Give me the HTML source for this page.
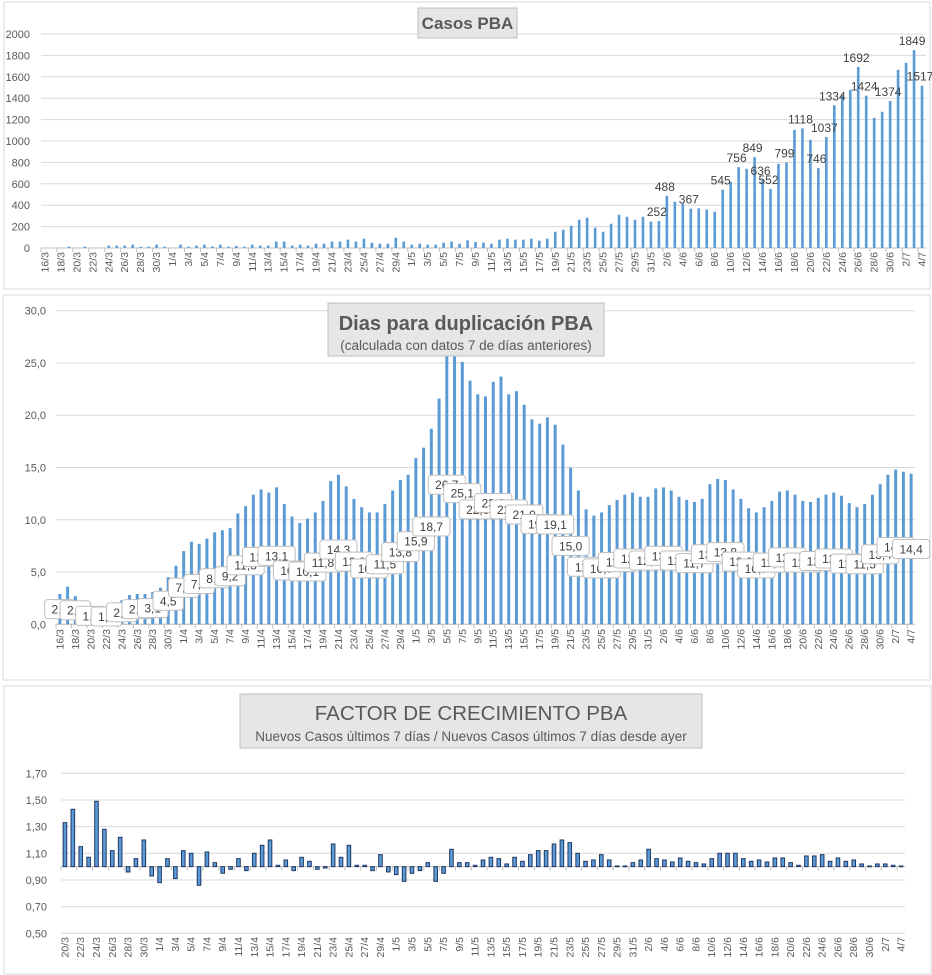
<!DOCTYPE html>
<html><head><meta charset="utf-8">
<style>
html,body{margin:0;padding:0;background:#fff;}
body{width:932px;height:975px;overflow:hidden;position:relative;font-family:"Liberation Sans",sans-serif;}
svg{position:absolute;left:0;top:0;}
text{font-family:"Liberation Sans",sans-serif;}
</style></head>
<body>
<svg id="chart" width="932" height="975" viewBox="0 0 932 975" xmlns="http://www.w3.org/2000/svg"></svg>
<script>
// ---------- DATA ----------
const casosValues = [0,0,3,12,3,12,2,2,22,22,22,31,10,12,31,12,3,31,12,22,31,15,31,12,20,12,31,22,22,59,59,22,31,22,40,40,59,59,78,59,87,50,40,40,96,59,31,40,31,31,50,59,40,
72,56,50,40,78,87,78,78,87,68,87,152,171,208,264,283,190,152,227,311,292,264,292,246,252,488,432,414,367,371,360,339,545,619,756,740,849,636,552,787,799,1104,1118,1011,746,1037,1334,1430,1478,1692,1424,1216,1273,1374,1665,1730,1849,1517];
const casosLabelIdx = [77,78,81,85,87,89,90,91,93,95,97,98,99,102,103,106,109,110];
const casosTicks = [0,200,400,600,800,1000,1200,1400,1600,1800,2000];

const dupValues = [2.9,3.6,2.7,1.6,1.6,1.5,1.5,1.9,2.3,2.8,2.9,2.9,3.1,3.5,4.5,5.6,7.0,7.9,7.7,8.2,8.8,9.0,9.2,10.6,11.3,12.4,12.9,12.6,13.1,11.5,10.3,9.7,10.1,10.7,11.8,13.7,14.3,13.2,12.0,11.2,10.7,10.7,11.5,12.8,13.8,14.3,15.9,16.9,18.7,21.6,26.7,25.7,25.1,23.3,22.0,21.8,23.2,23.7,22.0,22.3,21.0,19.6,19.2,19.8,19.1,17.2,15.0,12.8,11.0,10.4,10.7,11.4,11.9,12.4,12.6,12.2,12.2,13.0,13.1,12.8,12.2,11.9,11.7,12.0,13.4,13.9,13.8,12.9,12.0,11.1,10.7,11.2,11.8,12.7,12.8,12.4,11.8,11.7,12.1,12.4,12.6,12.3,11.6,11.2,11.5,12.4,13.4,14.3,14.8,14.6,14.4];
const dupTicks = [0,5,10,15,20,25,30];

const factorValues = [1.33,1.43,1.15,1.07,1.49,1.28,1.12,1.22,0.96,1.06,1.20,0.93,0.88,1.06,0.91,1.12,1.10,0.86,1.11,1.03,0.95,0.98,1.06,0.97,1.10,1.16,1.20,1.01,1.05,0.97,1.07,1.04,0.98,0.99,1.17,1.07,1.16,1.01,1.01,0.97,1.09,0.96,0.94,0.89,0.95,0.97,1.03,0.89,0.95,1.13,1.03,1.03,1.01,1.05,1.07,1.06,1.02,1.07,1.04,1.09,1.12,1.12,1.17,1.20,1.18,1.10,1.04,1.05,1.09,1.05,1.005,1.005,1.03,1.05,1.13,1.06,1.05,1.035,1.065,1.04,1.03,1.02,1.06,1.10,1.10,1.10,1.06,1.04,1.05,1.035,1.065,1.065,1.03,1.01,1.08,1.08,1.09,1.04,1.065,1.04,1.05,1.02,1.005,1.02,1.02,1.01,1.005];
const factorTicks = [0.5,0.7,0.9,1.1,1.3,1.5,1.7];

function dateList(d0, m0, n){
  const dim = {3:31,4:30,5:31,6:30,7:31};
  const out=[]; let d=d0, m=m0;
  for(let i=0;i<n;i++){ out.push(d+'/'+m); d++; if(d>dim[m]){d=1;m++;} }
  return out;
}
const casosCats = dateList(16,3,casosValues.length);
const dupCats = dateList(16,3,dupValues.length);
const factorCats = dateList(20,3,factorValues.length);

// ---------- HELPERS ----------
const NS='http://www.w3.org/2000/svg';
const svg=document.getElementById('chart');
function mk(tag, attrs, parent){
  const e=document.createElementNS(NS,tag);
  for(const k in attrs) e.setAttribute(k,attrs[k]);
  (parent||svg).appendChild(e);
  return e;
}
const fmt1 = v => v.toFixed(1).replace('.',',');
const fmt2 = v => v.toFixed(2).replace('.',',');

function panel(name,x,y,w,h){
  const r=mk('rect',{x:x,y:y,width:w,height:h,fill:'#fff',stroke:'#d9d9d9','stroke-width':1});
  
  
}
function titleBox(name,x,y,w,h){
  const r=mk('rect',{x:x,y:y,width:w,height:h,fill:'#e7e6e6',stroke:'#bfbfbf','stroke-width':1});
  
  
}
function txt(name,x,y,s,attrs){
  const t=mk('text',Object.assign({x:x,y:y},attrs));
  t.textContent=s;
  
  
  return t;
}
function xLabels(cats,xs,yTop,prefix){
  for(let i=0;i<cats.length;i+=2){
    const x=xs(i)+3.5;
    const t=mk('text',{x:x,y:yTop,'font-size':10.5,fill:'#595959','text-anchor':'end',transform:'rotate(-90 '+x+' '+yTop+')'});
    t.textContent=cats[i];
    
    
  }
}

// ---------- PANELS ----------
panel('casos-panel',4,2,926,287);
panel('duplicacion-panel',3,295,927,385);
panel('factor-panel',4,686,927,288);

// ---------- CHART 1: CASOS ----------
(function(){
  const x0=41,x1=926,y0=248,yTop=34,n=casosValues.length,step=(x1-x0)/n;
  const xs=i=>x0+(i+0.5)*step;
  const ys=v=>y0-(v/2000)*(y0-yTop);
  casosTicks.forEach(t=>{
    const g=mk('line',{x1:x0,x2:x1,y1:ys(t),y2:ys(t),stroke:'#d9d9d9','stroke-width':1});
    
    
    txt('casos-y-tick-label',30,ys(t)+4,String(t),{'font-size':11,fill:'#595959','text-anchor':'end'});
  });
  const ax=mk('line',{x1:x0,x2:x1,y1:y0,y2:y0,stroke:'#bfbfbf'});
  
  
  for(let i=0;i<=n;i+=2){
    const tk=mk('line',{x1:x0+i*step,x2:x0+i*step,y1:y0,y2:y0+4,stroke:'#bfbfbf'});
    
    
  }
  casosValues.forEach((v,i)=>{
    const b=mk('rect',{x:xs(i)-1.3,y:ys(v),width:2.6,height:y0-ys(v),fill:'#5b9bd5'});
    
    
  });
  casosLabelIdx.forEach(i=>{
    txt('casos-data-label',xs(i)-2,ys(casosValues[i])-5,String(casosValues[i]),{'font-size':12,fill:'#404040','text-anchor':'middle'});
  });
  xLabels(casosCats,xs,252,'casos');
  titleBox('casos-title-box',418,8,99,30);
  txt('casos-title',467.5,29,'Casos  PBA',{'font-size':17,'font-weight':'bold',fill:'#595959','text-anchor':'middle','xml:space':'preserve'});
})();

// ---------- CHART 2: DUPLICACION ----------
(function(){
  const x0=56,x1=915,y0=624.3,yTop=310.7,n=dupValues.length,step=(x1-x0)/n;
  const xs=i=>x0+(i+0.5)*step;
  const ys=v=>y0-(v/30)*(y0-yTop);
  dupTicks.forEach(t=>{
    const g=mk('line',{x1:x0,x2:x1,y1:ys(t),y2:ys(t),stroke:'#d9d9d9','stroke-width':1});
    
    
    txt('duplicacion-y-tick-label',46,ys(t)+4,fmt1(t),{'font-size':11,fill:'#595959','text-anchor':'end'});
  });
  const ax=mk('line',{x1:x0,x2:x1,y1:y0,y2:y0,stroke:'#bfbfbf'});
  
  
  for(let i=0;i<=n;i+=2){
    const tk=mk('line',{x1:x0+i*step,x2:x0+i*step,y1:y0,y2:y0+4,stroke:'#bfbfbf'});
    
    
  }
  dupValues.forEach((v,i)=>{
    const b=mk('rect',{x:xs(i)-1.5,y:ys(v),width:3,height:y0-ys(v),fill:'#5b9bd5'});
    
    
  });
  for(let i=0;i<n;i+=2){
    const s=fmt1(dupValues[i]);
    const w=s.length*6.8+10, h=19;
    const cx=xs(i), cy=ys(dupValues[i]/2);
    const bx=mk('rect',{x:cx-w/2,y:cy-h/2,width:w,height:h,rx:3,fill:'#fff',stroke:'#bfbfbf','stroke-width':1});
    
    
    txt('duplicacion-data-label',cx,cy+4.5,s,{'font-size':12,fill:'#404040','text-anchor':'middle'});
  }
  xLabels(dupCats,xs,629,'duplicacion');
  titleBox('duplicacion-title-box',328,303,276,53);
  txt('duplicacion-title',466,330,'Dias para duplicación PBA',{'font-size':20,'font-weight':'bold',fill:'#595959','text-anchor':'middle'});
  txt('duplicacion-subtitle',466,350,'(calculada con datos 7 de días anteriores)',{'font-size':13.5,fill:'#595959','text-anchor':'middle'});
})();

// ---------- CHART 3: FACTOR ----------
(function(){
  const x0=61,x1=905,yLo=933.3,yHi=773.3,n=factorValues.length,step=(x1-x0)/n;
  const xs=i=>x0+(i+0.5)*step;
  const ys=v=>yLo-((v-0.5)/1.2)*(yLo-yHi);
  factorTicks.forEach(t=>{
    const g=mk('line',{x1:x0,x2:x1,y1:ys(t),y2:ys(t),stroke:'#d9d9d9','stroke-width':1});
    
    
    txt('factor-y-tick-label',47,ys(t)+4,fmt2(t),{'font-size':11,fill:'#595959','text-anchor':'end'});
  });
  const base=ys(1.0);
  const ax=mk('line',{x1:x0,x2:x1,y1:base,y2:base,stroke:'#bfbfbf'});
  
  
  for(let i=0;i<=n;i+=2){
    const tk=mk('line',{x1:x0+i*step,x2:x0+i*step,y1:base,y2:base+4,stroke:'#bfbfbf'});
    
    
  }
  factorValues.forEach((v,i)=>{
    const top=Math.min(ys(v),base), h=Math.max(Math.abs(ys(v)-base),0.8);
    const b=mk('rect',{x:xs(i)-1.8,y:top,width:3.6,height:h,fill:'#5b9bd5',stroke:'#1f3864','stroke-width':1});
    
    
  });
  xLabels(factorCats,xs,937,'factor');
  titleBox('factor-title-box',240,694,462,54);
  txt('factor-title',471,720,'FACTOR DE CRECIMIENTO PBA',{'font-size':20.5,fill:'#595959','text-anchor':'middle'});
  txt('factor-subtitle',471,741,'Nuevos Casos últimos 7 días / Nuevos Casos últimos 7 días desde ayer',{'font-size':13.5,fill:'#595959','text-anchor':'middle'});
})();
</script>
</body></html>
